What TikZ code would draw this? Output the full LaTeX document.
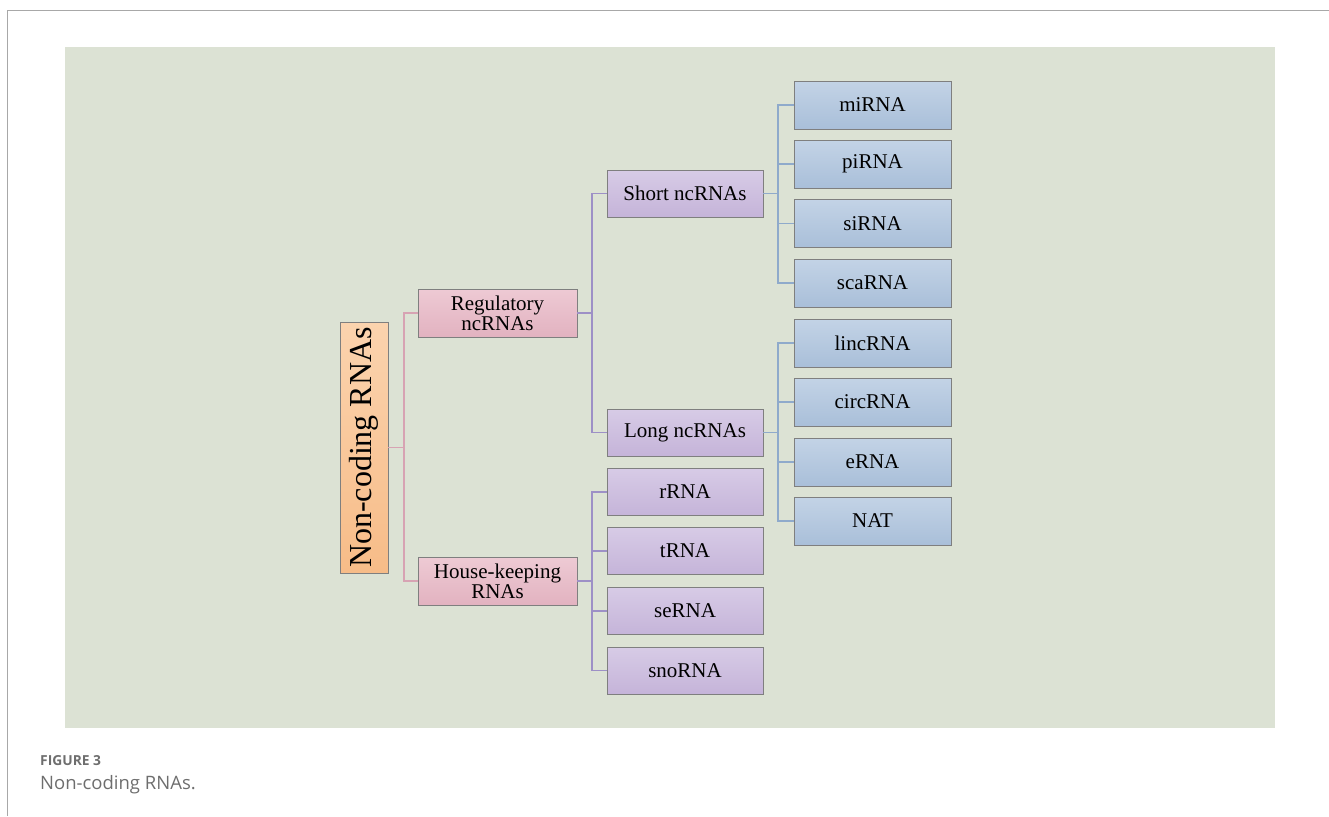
\documentclass[tikz,border=0pt]{standalone}
\usepackage{fontspec}
\setmainfont{Liberation Serif}
\newfontfamily\capfont{Open Sans}
\definecolor{bggreen}{HTML}{DCE2D4}
\definecolor{boxedge}{HTML}{7F7F7F}
\definecolor{orgtop}{HTML}{FBD3AE}
\definecolor{orgbot}{HTML}{F7BC88}
\definecolor{pinktop}{HTML}{EECAD4}
\definecolor{pinkbot}{HTML}{E2B2C0}
\definecolor{purtop}{HTML}{D7CBE6}
\definecolor{purbot}{HTML}{C5B4D9}
\definecolor{blutop}{HTML}{C3D3E6}
\definecolor{blubot}{HTML}{A9BFD9}
\definecolor{linkpink}{HTML}{D7A3B3}
\definecolor{linkpur}{HTML}{9D90C6}
\definecolor{linkblue}{HTML}{8FAACB}
\definecolor{framegray}{HTML}{A8A8A8}
\definecolor{capgray}{HTML}{6E6E6E}
\tikzset{
  rbox/.style={draw=boxedge, line width=0.9pt, inner sep=0pt, align=center},
  orgbox/.style={rbox, top color=orgtop, bottom color=orgbot},
  pinkbox/.style={rbox, top color=pinktop, bottom color=pinkbot, minimum width=159pt, minimum height=48pt, font=\fontsize{21}{20}\selectfont},
  purbox/.style={rbox, top color=purtop, bottom color=purbot, minimum width=156pt, minimum height=47pt, font=\fontsize{21}{21}\selectfont},
  blubox/.style={rbox, top color=blutop, bottom color=blubot, minimum width=157pt, minimum height=48pt, font=\fontsize{21}{21}\selectfont},
  link/.style={line width=1.2pt},
}
\begin{document}
\begin{tikzpicture}[x=1pt,y=-1pt]
\useasboundingbox (0,0) rectangle (1329,816);
% frame
\draw[framegray, line width=1.6pt] (7.5,816) -- (7.5,10.5) -- (1329,10.5);
% background
\fill[bggreen] (65,47) rectangle (1275,728);
% nodes
\node[orgbox, minimum width=48pt, minimum height=251pt] (nc) at (364,447.5) {};
\node[rotate=90, font=\fontsize{32}{32}\selectfont] (nct) at (nc.center) {Non-coding RNAs};
\node[pinkbox] (reg) at (497.5,313) {Regulatory\\ncRNAs};
\node[pinkbox] (hk) at (497.5,581) {House-keeping\\RNAs};
\node[purbox] (short) at (685,193.5) {Short ncRNAs};
\node[purbox] (long) at (685,432.5) {Long ncRNAs};
\node[purbox] (rrna) at (685,492) {rRNA};
\node[purbox] (trna) at (685,551) {tRNA};
\node[purbox] (serna) at (685,611) {seRNA};
\node[purbox] (snorna) at (685,670.5) {snoRNA};
\node[blubox] (mirna) at (872.5,105) {miRNA};
\node[blubox] (pirna) at (872.5,164) {piRNA};
\node[blubox] (sirna) at (872.5,223.5) {siRNA};
\node[blubox] (scarna) at (872.5,283) {scaRNA};
\node[blubox] (lincrna) at (872.5,343) {lincRNA};
\node[blubox] (circrna) at (872.5,402) {circRNA};
\node[blubox] (erna) at (872.5,462) {eRNA};
\node[blubox] (nat) at (872.5,521) {NAT};
% connectors: Non-coding
\coordinate (j1) at (404,447.5);
\draw[link, linkpink] (nc.east) -- (j1);
\draw[link, linkpink] (reg.west) -| (j1) |- (hk.west);
% Regulatory
\coordinate (j2) at (592,313);
\draw[link, linkpur] (reg.east) -- (j2);
\draw[link, linkpur] (short.west) -| (j2) |- (long.west);
% House-keeping
\coordinate (j3) at (592,581);
\draw[link, linkpur] (hk.east) -- (j3);
\draw[link, linkpur] (rrna.west) -| (j3) |- (snorna.west);
\draw[link, linkpur] (trna.west) -- (trna.west -| j3);
\draw[link, linkpur] (serna.west) -- (serna.west -| j3);
% Short
\coordinate (j4) at (778,193.5);
\draw[link, linkblue] (short.east) -- (j4);
\draw[link, linkblue] (mirna.west) -| (j4) |- (scarna.west);
\draw[link, linkblue] (pirna.west) -- (pirna.west -| j4);
\draw[link, linkblue] (sirna.west) -- (sirna.west -| j4);
% Long
\coordinate (j5) at (778,432.5);
\draw[link, linkblue] (long.east) -- (j5);
\draw[link, linkblue] (lincrna.west) -| (j5) |- (nat.west);
\draw[link, linkblue] (circrna.west) -- (circrna.west -| j5);
\draw[link, linkblue] (erna.west) -- (erna.west -| j5);
% caption
\node[anchor=base west, inner sep=0pt, text=capgray, font=\capfont\fontsize{13.8}{14}\selectfont\bfseries] (figlab) at (40,765) {FIGURE 3};
\node[anchor=base west, inner sep=0pt, text=capgray, font=\capfont\fontsize{18.5}{18.5}\selectfont] (figcap) at (40,789.5) {Non-coding RNAs.};
\end{tikzpicture}
\end{document}
